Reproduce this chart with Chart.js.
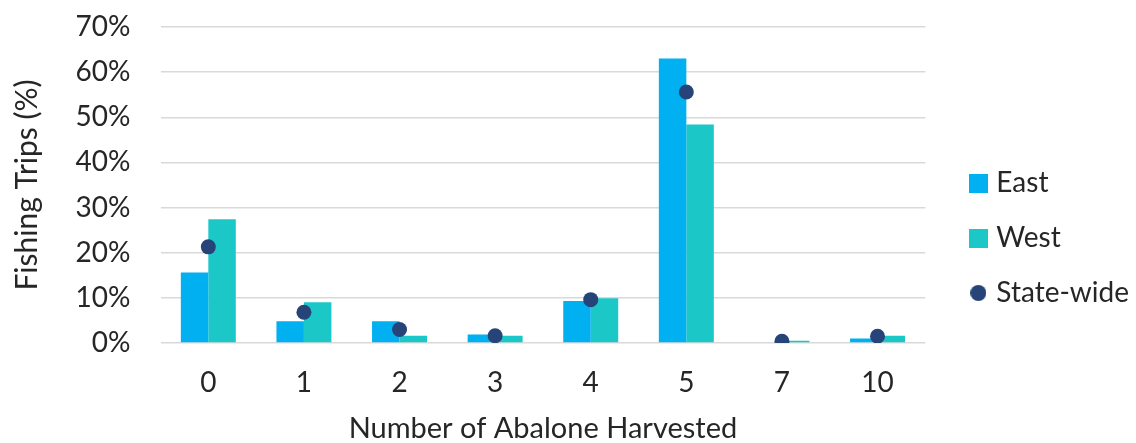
<!DOCTYPE html>
<html>
<head>
<meta charset="utf-8">
<script src="https://cdn.jsdelivr.net/npm/chart.js@4/dist/chart.umd.min.js"></script>
<style>
  html, body { margin: 0; padding: 0; background: #ffffff; }
  #wrap { width: 1136px; height: 443px; }
</style>
</head>
<body>
<div id="wrap"><canvas id="c" width="1136" height="443"></canvas></div>
<script>
// Share of fishing trips by number of abalone harvested per trip
const categories = ['0', '1', '2', '3', '4', '5', '7', '10'];
const eastValues = [15.6, 4.8, 4.8, 1.9, 9.3, 63.0, 0, 1.0];
const westValues = [27.4, 9.0, 1.6, 1.6, 9.9, 48.4, 0.5, 1.6];
const statewideValues = [21.3, 6.8, 3.0, 1.6, 9.6, 55.6, 0.4, 1.5];
const yTicks = [0, 10, 20, 30, 40, 50, 60, 70];

const EAST = '#00B0F0';
const WEST = '#1CC7C7';
const STATE = '#264478';
const TEXT = '#262626';
const FONT = 'Lato, "Open Sans", sans-serif';

// legend glyphs: filled squares for the bar series, a dot for the state-wide series
function glyph(shape, size, color) {
  const cv = document.createElement('canvas');
  cv.width = size; cv.height = size;
  const g = cv.getContext('2d');
  g.fillStyle = color;
  if (shape === 'circle') {
    g.beginPath();
    g.arc(size / 2, size / 2, size / 2, 0, Math.PI * 2);
    g.fill();
  } else {
    g.fillRect(0, 0, size, size);
  }
  return cv;
}
const glyphs = [glyph('rect', 19, EAST), glyph('rect', 19, WEST), glyph('circle', 16, STATE)];

// nudge the legend block away from the plot and down a little
const legendOffset = {
  id: 'legendOffset',
  afterLayout(chart) {
    const lg = chart.legend;
    if (!lg) return;
    const dx = 22, dy = 3;
    lg.left += dx; lg.right += dx;
    lg.top += dy; lg.bottom += dy;
  }
};

new Chart(document.getElementById('c'), {
  data: {
    labels: categories,
    datasets: [
      { type: 'bar', label: 'East', data: eastValues, backgroundColor: EAST, order: 2 },
      { type: 'bar', label: 'West', data: westValues, backgroundColor: WEST, order: 2 },
      { type: 'line', label: 'State-wide', data: statewideValues, showLine: false,
        pointRadius: 7.5, pointHoverRadius: 7.5, pointBackgroundColor: STATE,
        pointBorderWidth: 0, borderColor: STATE, backgroundColor: STATE, order: 1 }
    ]
  },
  plugins: [legendOffset],
  options: {
    responsive: false,
    animation: false,
    categoryPercentage: 0.575,
    barPercentage: 1.0,
    layout: { padding: { left: 11, right: 19, top: 27, bottom: 0 } },
    plugins: {
      tooltip: { enabled: false },
      legend: {
        position: 'right',
        labels: {
          color: TEXT,
          font: { family: FONT, size: 28 },
          usePointStyle: true,
          pointStyleWidth: 8,
          boxWidth: 19,
          boxHeight: 19,
          padding: 27,
          generateLabels(chart) {
            return chart.data.datasets.map((ds, i) => ({
              text: ds.label,
              fillStyle: ds.backgroundColor,
              strokeStyle: ds.backgroundColor,
              lineWidth: 0,
              pointStyle: glyphs[i],
              hidden: false,
              datasetIndex: i,
              fontColor: TEXT
            }));
          }
        }
      }
    },
    scales: {
      x: {
        afterFit(axis) { axis.height = 100; },
        grid: { display: false, drawTicks: false },
        border: { display: false },
        ticks: { color: TEXT, font: { family: FONT, size: 28, lineHeight: 1.0 }, padding: 26 },
        title: { display: true, text: 'Number of Abalone Harvested', color: TEXT,
                 font: { family: FONT, size: 29, lineHeight: 1.0 }, padding: { top: 0, bottom: 0 } }
      },
      y: {
        min: 0, max: 70,
        afterBuildTicks(axis) { axis.ticks = yTicks.map(v => ({ value: v })); },
        afterFit(axis) { axis.paddingTop = 0; axis.paddingBottom = 0; },
        grid: { color: '#D9D9D9', lineWidth: 1.5, drawTicks: false },
        border: { display: false },
        ticks: { color: TEXT, font: { family: FONT, size: 28, lineHeight: 1.0 }, padding: 30,
                 callback: v => v + '%' },
        title: { display: true, text: 'Fishing Trips (%)', color: TEXT,
                 font: { family: FONT, size: 30, lineHeight: 1.12 }, padding: { top: 0, bottom: 1 } }
      }
    }
  }
});
</script>
</body>
</html>
